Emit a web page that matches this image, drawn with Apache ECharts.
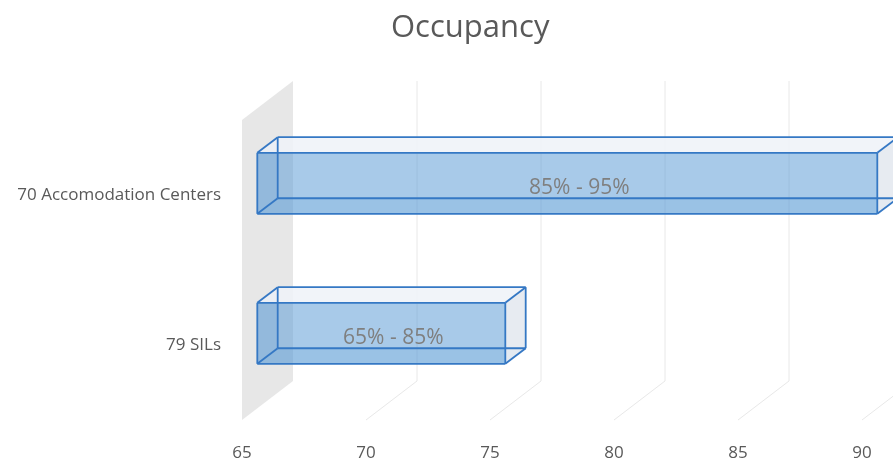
<!DOCTYPE html>
<html>
<head>
<meta charset="utf-8">
<script src="https://cdn.jsdelivr.net/npm/echarts@6/dist/echarts.min.js"></script>
<style>
html,body{margin:0;padding:0;background:#fff;}
#chart{width:893px;height:459px;}
</style>
</head>
<body>
<div id="chart"></div>
<script>
// ---- data ----
const categories = ['70 Accomodation Centers', '79 SILs'];
const values = [90, 75];
const rangeLabels = ['85% - 95%', '65% - 85%'];
const xTicks = [65, 70, 75, 80, 85, 90];
const xMin = 65, xMax = 90, xStep = 5;

// ---- style constants ----
const DX = 51, DY = -39;          // full depth of the 3D box
const FRONT = 0.3, BACK = 0.7;    // bar depth position as fraction
const EDGE = '#3578c4';
const FONT = '"Open Sans", "Liberation Sans", sans-serif';

const chart = echarts.init(document.getElementById('chart'), null, {renderer: 'canvas'});

function frameItem(params, api) {
  const cs = params.coordSys;
  const v = api.value(0);
  const x = api.coord([v, 0])[0];
  const yTop = cs.y, yBot = cs.y + cs.height;
  if (v === xMin) {
    return {
      type: 'polygon',
      shape: {points: [[x, yTop], [x + DX, yTop + DY], [x + DX, yBot + DY], [x, yBot]]},
      style: {fill: '#e7e7e7'}
    };
  }
  return {
    type: 'group',
    children: [
      {type: 'line', shape: {x1: x + DX, y1: yTop + DY, x2: x + DX, y2: yBot + DY},
       style: {stroke: '#e8e8e8', lineWidth: 1}},
      {type: 'line', shape: {x1: x, y1: yBot, x2: x + DX, y2: yBot + DY},
       style: {stroke: '#e8e8e8', lineWidth: 1}}
    ]
  };
}

function barItem(params, api) {
  const v = api.value(0), ci = api.value(1);
  const p0 = api.coord([xMin, ci]);
  const p1 = api.coord([v, ci]);
  const band = api.size([0, 1])[1];
  const h = band * 0.407;
  const fx = FRONT * DX, fy = FRONT * DY;
  const bx = BACK * DX, by = BACK * DY;
  const yc = p0[1];
  const F = {
    LT: [p0[0] + fx, yc + fy - h / 2], RT: [p1[0] + fx, yc + fy - h / 2],
    RB: [p1[0] + fx, yc + fy + h / 2], LB: [p0[0] + fx, yc + fy + h / 2]
  };
  const B = {
    LT: [p0[0] + bx, yc + by - h / 2], RT: [p1[0] + bx, yc + by - h / 2],
    RB: [p1[0] + bx, yc + by + h / 2], LB: [p0[0] + bx, yc + by + h / 2]
  };
  const ln = (a, b) => ({type: 'line', shape: {x1: a[0], y1: a[1], x2: b[0], y2: b[1]},
    style: {stroke: EDGE, lineWidth: 1.8}});
  const poly = (pts, fill) => ({type: 'polygon', shape: {points: pts}, style: {fill: fill}});
  const children = [
    poly([F.LB, F.RB, B.RB, B.LB], 'rgba(91,155,213,0.18)'),
    poly([F.LT, B.LT, B.LB, F.LB], 'rgba(91,155,213,0.14)'),
    poly([F.LT, F.RT, F.RB, F.LB], 'rgba(91,155,213,0.53)'),
    poly([F.LT, F.RT, B.RT, B.LT], 'rgba(238,242,248,0.85)'),
    poly([F.RT, B.RT, B.RB, F.RB], 'rgba(228,233,240,0.9)'),
    // back edges
    ln(B.LT, B.RT), ln(B.RT, B.RB), ln(B.RB, B.LB), ln(B.LB, B.LT),
    // connectors
    ln(F.LT, B.LT), ln(F.RT, B.RT), ln(F.RB, B.RB), ln(F.LB, B.LB),
    // front edges
    ln(F.LT, F.RT), ln(F.RT, F.RB), ln(F.RB, F.LB), ln(F.LB, F.LT),
    {
      type: 'text',
      style: {
        x: (F.LT[0] + F.RT[0]) / 2 + 12,
        y: (F.LT[1] + F.LB[1]) / 2 + 5,
        text: rangeLabels[params.dataIndex],
        fill: '#7f7f7f',
        font: '21px ' + FONT,
        textAlign: 'center',
        textVerticalAlign: 'middle'
      }
    }
  ];
  return {type: 'group', children: children};
}

chart.setOption({
  animation: false,
  backgroundColor: '#fff',
  title: {
    text: 'Occupancy',
    left: 386,
    top: 8,
    textStyle: {color: '#595959', fontSize: 31, fontWeight: 'normal', fontFamily: FONT}
  },
  grid: {left: 242, right: 31, top: 120, bottom: 39, containLabel: false, outerBoundsMode: 'none'},
  xAxis: {
    type: 'value', min: xMin, max: xMax, interval: xStep,
    axisLine: {show: false}, axisTick: {show: false}, splitLine: {show: false},
    axisLabel: {color: '#595959', fontSize: 17, fontFamily: FONT, margin: 25}
  },
  yAxis: {
    type: 'category', data: categories, inverse: true,
    axisLine: {show: false}, axisTick: {show: false}, splitLine: {show: false},
    axisLabel: {color: '#595959', fontSize: 17, fontFamily: FONT, margin: 21, padding: [8, 0, 0, 0]}
  },
  series: [
    {
      type: 'custom', name: 'frame', renderItem: frameItem, clip: false, silent: true,
      data: xTicks.map(v => [v, 0]), z: 1
    },
    {
      type: 'custom', name: 'Occupancy', renderItem: barItem, clip: false,
      encode: {x: 0, y: 1},
      data: values.map((v, i) => [v, i]), z: 2
    }
  ]
});
</script>
</body>
</html>
